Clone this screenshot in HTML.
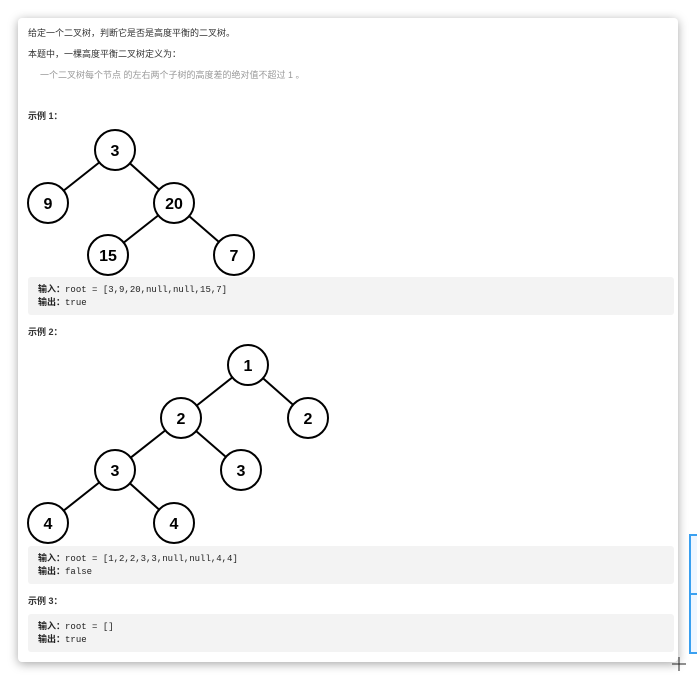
<!DOCTYPE html>
<html><head><meta charset="utf-8"><style>
body{margin:0;width:697px;height:682px;background:#fff;position:relative;overflow:hidden;font-family:"Liberation Sans","Noto Sans CJK SC",sans-serif;}
.card{position:absolute;left:18px;top:18px;width:660px;height:644px;background:#fff;border-radius:4px;box-shadow:0 2px 10px rgba(0,0,0,.35);}
.t{position:absolute;font-size:9px;color:#333;white-space:nowrap;}
.g{color:#999;}
.b{font-weight:bold;}
.code{position:absolute;left:28px;width:646px;background:#f3f3f3;border-radius:3px;font-family:"Liberation Mono","Noto Sans CJK SC",monospace;font-size:9px;color:#222;line-height:13px;padding:7px 10px;box-sizing:border-box;}
svg{position:absolute;left:0;top:0;}
</style></head><body>
<div class="card"></div>
<div class="t" style="left:28px;top:26px">给定一个二叉树，判断它是否是高度平衡的二叉树。</div>
<div class="t" style="left:28px;top:47px">本题中，一棵高度平衡二叉树定义为：</div>
<div class="t g" style="left:40px;top:68px">一个二叉树每个节点 的左右两个子树的高度差的绝对值不超过 1 。</div>
<div class="t b" style="left:28px;top:109px">示例 1：</div>
<div class="code" style="top:277px;height:38px"><b>输入：</b>root = [3,9,20,null,null,15,7]<br><b>输出：</b>true</div>
<div class="t b" style="left:28px;top:325px">示例 2：</div>
<div class="code" style="top:546px;height:38px"><b>输入：</b>root = [1,2,2,3,3,null,null,4,4]<br><b>输出：</b>false</div>
<div class="t b" style="left:28px;top:594px">示例 3：</div>
<div class="code" style="top:614px;height:38px"><b>输入：</b>root = []<br><b>输出：</b>true</div>
<svg width="697" height="682" font-family="Liberation Sans" font-weight="bold" font-size="16" text-anchor="middle">
<g stroke="#000" stroke-width="2">
<line x1="115" y1="150" x2="48" y2="203"/><line x1="115" y1="150" x2="174" y2="203"/>
<line x1="174" y1="203" x2="108" y2="255"/><line x1="174" y1="203" x2="234" y2="255"/>
<line x1="248" y1="365" x2="181" y2="418"/><line x1="248" y1="365" x2="308" y2="418"/>
<line x1="181" y1="418" x2="115" y2="470"/><line x1="181" y1="418" x2="241" y2="470"/>
<line x1="115" y1="470" x2="48" y2="523"/><line x1="115" y1="470" x2="174" y2="523"/>
</g>
<g fill="#fff" stroke="#000" stroke-width="2">
<circle cx="115" cy="150" r="20"/><circle cx="48" cy="203" r="20"/><circle cx="174" cy="203" r="20"/><circle cx="108" cy="255" r="20"/><circle cx="234" cy="255" r="20"/>
<circle cx="248" cy="365" r="20"/><circle cx="181" cy="418" r="20"/><circle cx="308" cy="418" r="20"/><circle cx="115" cy="470" r="20"/><circle cx="241" cy="470" r="20"/><circle cx="48" cy="523" r="20"/><circle cx="174" cy="523" r="20"/>
</g>
<g fill="#000">
<text x="115" y="156">3</text><text x="48" y="209">9</text><text x="174" y="209">20</text><text x="108" y="261">15</text><text x="234" y="261">7</text>
<text x="248" y="371">1</text><text x="181" y="424">2</text><text x="308" y="424">2</text><text x="115" y="476">3</text><text x="241" y="476">3</text><text x="48" y="529">4</text><text x="174" y="529">4</text>
</g>
<rect x="690" y="535" width="10" height="118" fill="#eef6ff" stroke="#3aa0f0" stroke-width="2"/>
<line x1="690" y1="594" x2="697" y2="594" stroke="#3aa0f0" stroke-width="2"/>
<g stroke="#222" stroke-width="1"><line x1="679" y1="657" x2="679" y2="671"/><line x1="672" y1="664" x2="686" y2="664"/></g>
</svg>
</body></html>
